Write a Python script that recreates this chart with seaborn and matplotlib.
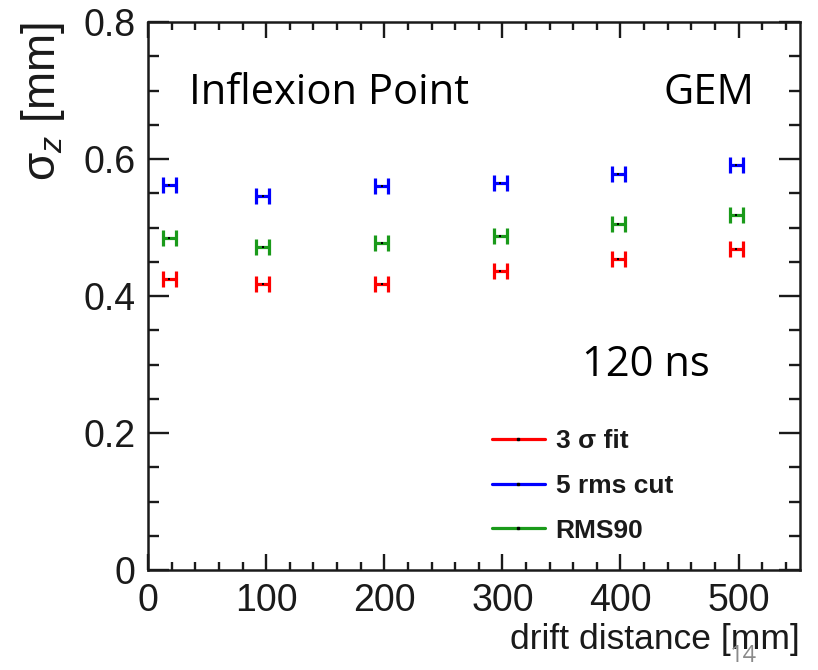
import numpy as np
import pandas as pd
import matplotlib
matplotlib.use("Agg")
import matplotlib.pyplot as plt
import seaborn as sns
from matplotlib.lines import Line2D
from matplotlib.ticker import MultipleLocator

# ---- data ----
drift = [18, 97, 198, 298, 398, 498]
sigma_3fit = [0.425, 0.418, 0.418, 0.437, 0.454, 0.469]
rms_cut5 = [0.562, 0.546, 0.561, 0.565, 0.578, 0.591]
rms90 = [0.485, 0.472, 0.477, 0.488, 0.505, 0.518]
x_err = [5.5, 5.5, 5.5, 5.5, 5.5, 5.5]
series_names = ["3 σ fit", "5 rms cut", "RMS90"]
series_colors = ["#ff0000", "#0000ff", "#1a9a1a"]
xticks = [0, 100, 200, 300, 400, 500]
yticks = [0, 0.2, 0.4, 0.6, 0.8]
ytick_labels = ["0", "0.2", "0.4", "0.6", "0.8"]

df = pd.DataFrame({
    "drift": drift * 3,
    "sigma": sigma_3fit + rms_cut5 + rms90,
    "xerr": x_err * 3,
    "series": sum([[n] * len(drift) for n in series_names], []),
})

sns.set_theme(style="ticks")
plt.rcParams["font.family"] = ["Liberation Sans", "DejaVu Sans"]
plt.rcParams["mathtext.fontset"] = "custom"
plt.rcParams["mathtext.rm"] = "Liberation Sans"
plt.rcParams["mathtext.it"] = "Liberation Sans:italic"

fig = plt.figure(figsize=(8.18, 6.70), dpi=100)
ax = fig.add_axes([0.181, 0.149, 0.797, 0.818])

for name, col in zip(series_names, series_colors):
    sub = df[df["series"] == name]
    ax.errorbar(sub["drift"], sub["sigma"], xerr=sub["xerr"], fmt="none",
                ecolor=col, elinewidth=2.3, capsize=5.5, capthick=2.3, zorder=3)
sns.scatterplot(data=df, x="drift", y="sigma", color="black", s=4,
                marker="s", linewidth=0, ax=ax, zorder=4, legend=False)

ax.set_xlim(0, 552)
ax.set_ylim(0, 0.8)
ax.set_xticks(xticks)
ax.set_yticks(yticks)
ax.set_xticklabels([str(v) for v in xticks])
ax.set_yticklabels(ytick_labels)
ax.xaxis.set_minor_locator(MultipleLocator(20))
ax.yaxis.set_minor_locator(MultipleLocator(0.05))
ax.tick_params(which="both", direction="in", top=True, right=True,
               width=1.7, color="#1a1a1a", labelsize=27, labelcolor="#1a1a1a")
ax.tick_params(axis="y", which="major", length=15, pad=9)
ax.tick_params(axis="y", which="minor", length=8)
ax.tick_params(axis="x", which="major", length=11.5, pad=9)
ax.tick_params(axis="x", which="minor", length=6)
for sp in ax.spines.values():
    sp.set_linewidth(1.8)
    sp.set_color("#1a1a1a")

ax.set_xlabel("drift distance [mm]", fontsize=25.5, loc="right", labelpad=3,
              color="#1a1a1a")
ax.set_ylabel("σ$_z$ [mm]", fontsize=33, loc="top", color="#1a1a1a")
ax.yaxis.set_label_coords(-0.125, 1.0)

# annotations
txt_kw = dict(transform=ax.transAxes, fontsize=30, family="Open Sans",
              color="black", va="center")
ax.text(0.063, 0.87, "Inflexion Point", **txt_kw)
ax.text(0.79, 0.87, "GEM", **txt_kw)
ax.text(0.665, 0.375, "120 ns", **txt_kw)

handles = [(Line2D([], [], color=c, lw=2.3),
            Line2D([], [], color="black", marker="s", markersize=1.5, lw=0))
           for c in series_colors]
leg = ax.legend(handles, series_names, loc="upper left",
                bbox_to_anchor=(0.507, 0.281), frameon=False, borderpad=0,
                prop={"weight": "bold", "size": 19}, handlelength=2.0,
                labelspacing=0.78, handletextpad=0.42)
for t in leg.get_texts():
    t.set_color("#1a1a1a")

fig.text(0.892, 0.012, "14", fontsize=17, color="#8a8a8a", family="Open Sans")

fig.savefig("out.png", dpi=100)
